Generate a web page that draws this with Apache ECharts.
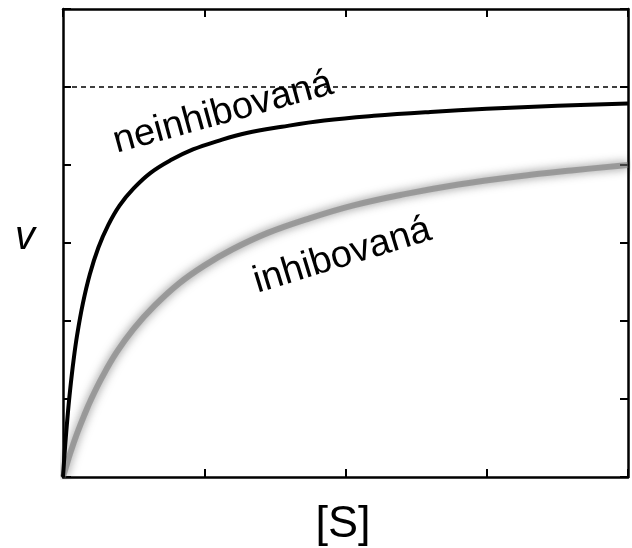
<!DOCTYPE html>
<html>
<head>
<meta charset="utf-8">
<script src="https://cdn.jsdelivr.net/npm/echarts@6/dist/echarts.min.js"></script>
<style>
  html, body { margin: 0; padding: 0; background: #fff; }
  #chart { width: 632px; height: 548px; }
</style>
</head>
<body>
<div id="chart"></div>
<script>
// substrate [S] and rate v (x axis 0..4, y axis 0..6)
const sFree = [0, 0.01, 0.02, 0.035, 0.05, 0.075, 0.1, 0.14, 0.19, 0.25, 0.32, 0.4, 0.5, 0.62, 0.76, 0.92, 1.1, 1.3, 1.55, 1.85, 2.2, 2.6, 3.0, 3.5, 4.0];
const vFree = [0, 0.27, 0.51, 0.83, 1.11, 1.5, 1.82, 2.22, 2.6, 2.94, 3.23, 3.48, 3.7, 3.9, 4.06, 4.2, 4.31, 4.41, 4.49, 4.57, 4.63, 4.68, 4.72, 4.76, 4.79];

const sInh = [0, 0.02, 0.05, 0.1, 0.15, 0.2, 0.28, 0.38, 0.5, 0.65, 0.82, 1.0, 1.2, 1.45, 1.75, 2.05, 2.4, 2.8, 3.2, 3.6, 4.0];
const vInh = [0, 0.12, 0.3, 0.56, 0.79, 1.0, 1.29, 1.6, 1.9, 2.2, 2.48, 2.71, 2.92, 3.13, 3.32, 3.48, 3.62, 3.75, 3.85, 3.93, 4.0];

const vMax = 5;
const xRange = [0, 4];
const yRange = [0, 6];

const labelFree = 'neinhibovaná';
const labelInh = 'inhibovaná';
const xName = '[S]';
const yName = 'v';

const chart = echarts.init(document.getElementById('chart'));

const frameLine = () => ({ show: true, onZero: false, lineStyle: { color: '#000', width: 2.5 } });
const innerTick = () => ({ show: true, inside: true, length: 8, lineStyle: { color: '#000', width: 2 } });

const xAxisFor = (position) => ({
  type: 'value',
  position,
  min: xRange[0],
  max: xRange[1],
  interval: 1,
  axisLine: frameLine(),
  axisTick: innerTick(),
  axisLabel: { show: false },
  splitLine: { show: false },
});
const yAxisFor = (position) => ({
  type: 'value',
  position,
  min: yRange[0],
  max: yRange[1],
  interval: 1,
  axisLine: frameLine(),
  axisTick: innerTick(),
  axisLabel: { show: false },
  splitLine: { show: false },
});

const labelFont = '38px "Liberation Sans", Arial, sans-serif';

chart.setOption({
  animation: false,
  backgroundColor: '#fff',
  grid: { left: 63, top: 9, right: 4, bottom: 71 },
  xAxis: [xAxisFor('bottom'), xAxisFor('top')],
  yAxis: [yAxisFor('left'), yAxisFor('right')],
  series: [
    {
      name: labelInh,
      type: 'line',
      data: sInh.map((s, i) => [s, vInh[i]]),
      smooth: 0.4,
      showSymbol: false,
      lineStyle: {
        color: 'rgba(115,115,115,0.55)',
        width: 6,
        shadowBlur: 10,
        shadowColor: 'rgba(40,40,40,1)',
      },
      z: 2,
    },
    {
      name: labelFree,
      type: 'line',
      data: sFree.map((s, i) => [s, vFree[i]]),
      smooth: 0.4,
      showSymbol: false,
      lineStyle: { color: '#000', width: 4 },
      markLine: {
        silent: true,
        symbol: 'none',
        label: { show: false },
        lineStyle: { color: '#000', width: 1.5, type: [5, 4] },
        data: [{ yAxis: vMax }],
      },
      z: 3,
    },
  ],
  graphic: [
    {
      type: 'text',
      x: 119, y: 161,
      rotation: 15.3 * Math.PI / 180,
      style: {
        text: labelFree,
        font: labelFont,
        fill: '#000',
        textAlign: 'left', textVerticalAlign: 'bottom',
        align: 'left', verticalAlign: 'bottom',
      },
      z: 10,
    },
    {
      type: 'text',
      x: 260, y: 301,
      rotation: 17 * Math.PI / 180,
      style: {
        text: labelInh,
        font: labelFont,
        fill: '#000',
        textAlign: 'left', textVerticalAlign: 'bottom',
        align: 'left', verticalAlign: 'bottom',
      },
      z: 10,
    },
    {
      type: 'text',
      x: 343, y: 525,
      style: {
        text: xName,
        font: '45px "Liberation Sans", Arial, sans-serif',
        fill: '#000',
        textAlign: 'center', textVerticalAlign: 'middle',
        align: 'center', verticalAlign: 'middle',
      },
    },
    {
      type: 'text',
      x: 25, y: 238,
      style: {
        text: yName,
        font: 'italic 40px "Liberation Sans", Arial, sans-serif',
        fill: '#000',
        textAlign: 'center', textVerticalAlign: 'middle',
        align: 'center', verticalAlign: 'middle',
      },
    },
  ],
});
</script>
</body>
</html>
